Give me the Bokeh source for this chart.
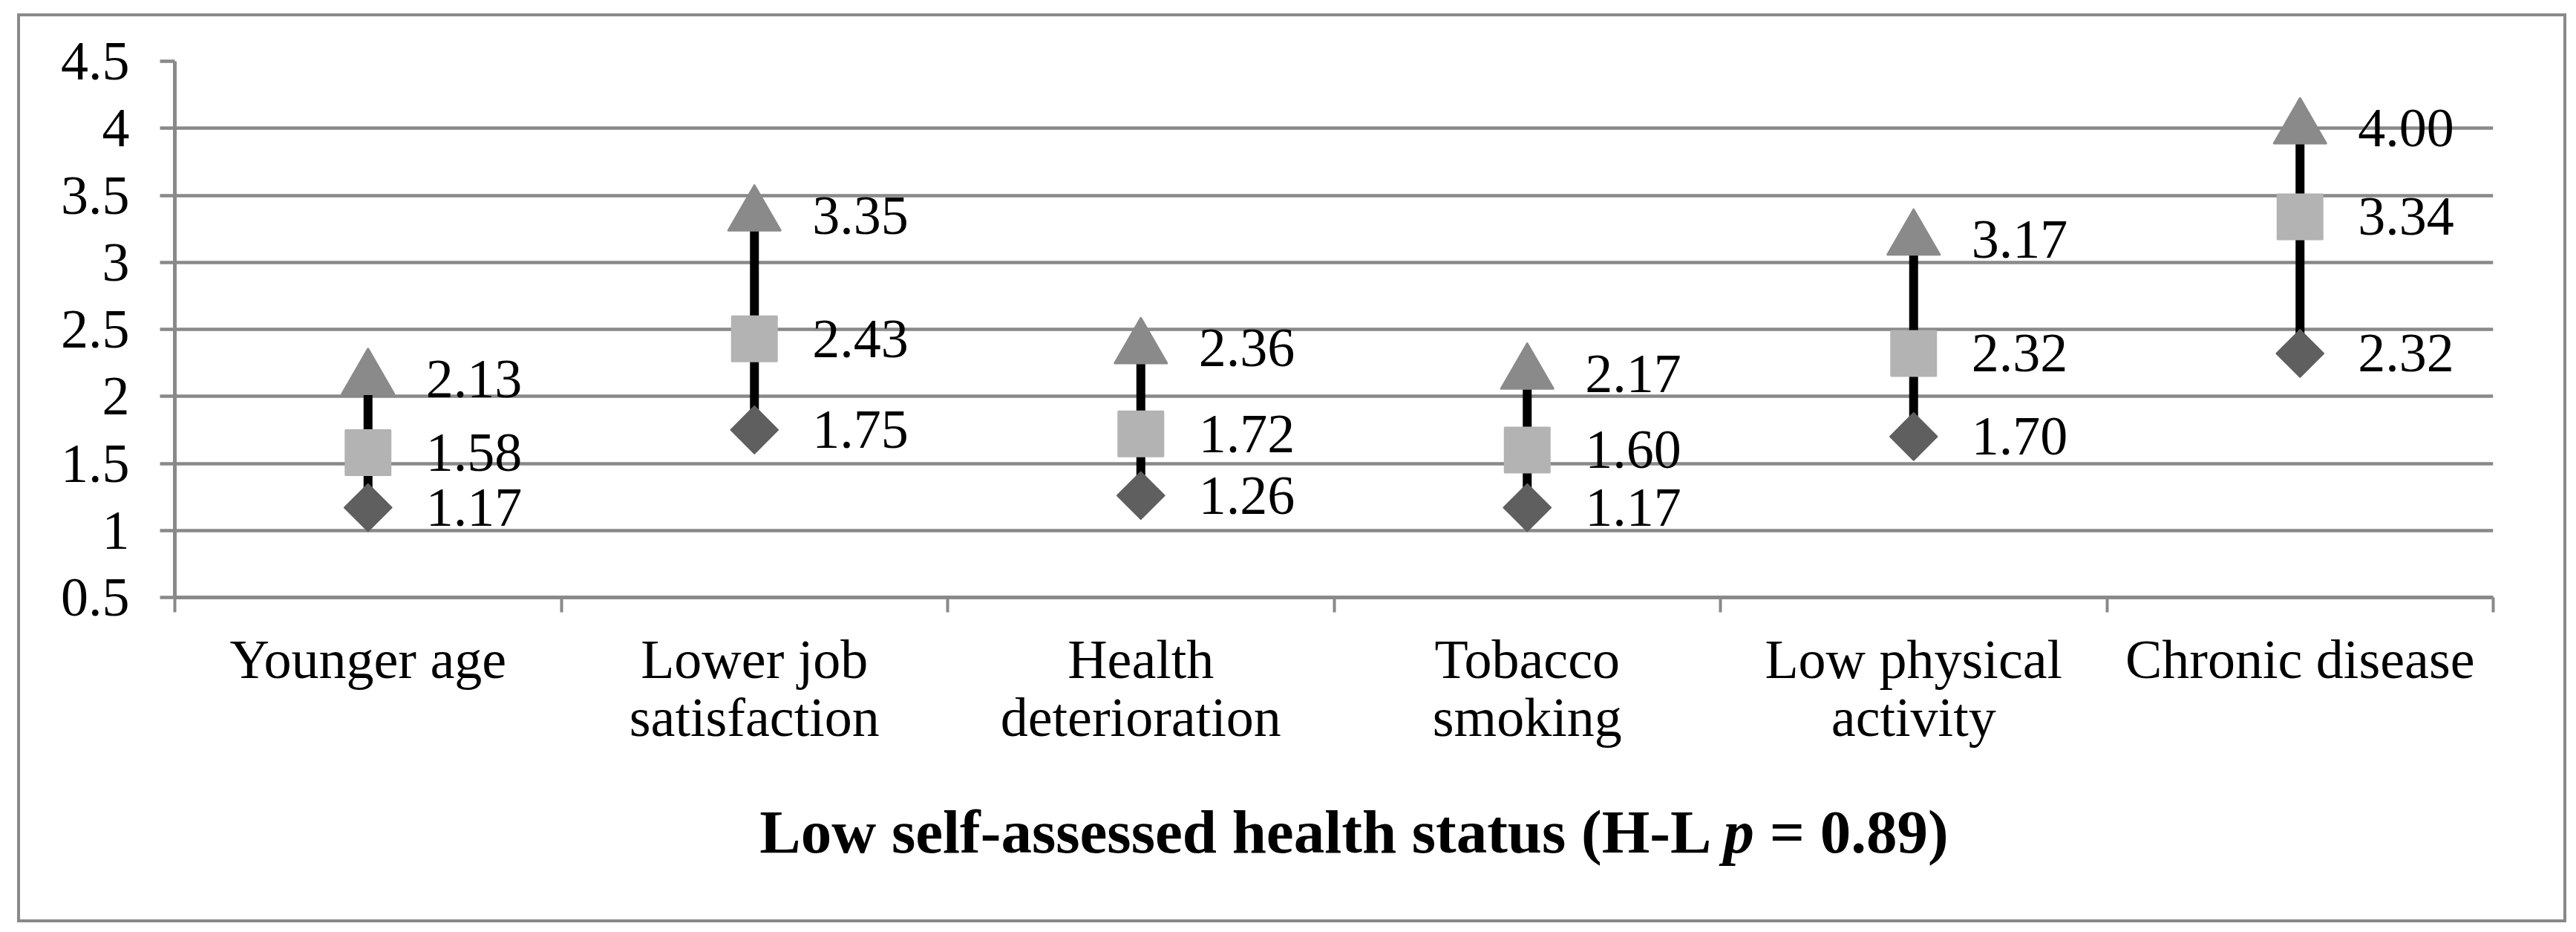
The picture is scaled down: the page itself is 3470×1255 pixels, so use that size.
import numpy as np
from bokeh.plotting import figure
from bokeh.layouts import column
from bokeh.models import ColumnDataSource, Range1d, FixedTicker, Div
from bokeh.embed import file_html
from bokeh.resources import INLINE
from bokeh.core.properties import value

# ---------------- data ----------------
categories = ["Younger age", "Lower job satisfaction", "Health deterioration",
              "Tobacco smoking", "Low physical activity", "Chronic disease"]
category_labels = ["Younger age", "Lower job\nsatisfaction", "Health\ndeterioration",
                   "Tobacco\nsmoking", "Low physical\nactivity", "Chronic disease"]
high_values = [2.13, 3.35, 2.36, 2.17, 3.17, 4.00]
mid_values = [1.58, 2.43, 1.72, 1.60, 2.32, 3.34]
low_values = [1.17, 1.75, 1.26, 1.17, 1.70, 2.32]
y_ticks = [0.5, 1.0, 1.5, 2.0, 2.5, 3.0, 3.5, 4.0, 4.5]
title_before = "Low self-assessed health status (H-L "
title_italic = "p"
title_after = " = 0.89)"

# ---------------- style ----------------
FONT = "Liberation Serif"
GRID = "#898989"
TRI_C = "#8a8a8a"
SQ_C = "#b3b3b3"
DIA_C = "#5f5f5f"

n = len(categories)
xc = [i + 0.5 for i in range(n)]
src = ColumnDataSource(dict(
    x=xc, high=high_values, mid=mid_values, low=low_values,
    high_txt=[f"{v:.2f}" for v in high_values],
    mid_txt=[f"{v:.2f}" for v in mid_values],
    low_txt=[f"{v:.2f}" for v in low_values],
))

W, H = 3416, 1038
p = figure(width=W, height=H, x_range=Range1d(0, n), y_range=Range1d(y_ticks[0], y_ticks[-1]),
           output_backend="svg", toolbar_location=None,
           min_border_left=208, min_border_right=85, min_border_top=60, min_border_bottom=256,
           background_fill_color="white", border_fill_color="white", outline_line_color=None)

# x axis: labels at category centres, tick marks at category boundaries
ax = p.xaxis[0]
ax.ticker = FixedTicker(ticks=xc, minor_ticks=list(range(n + 1)))
ax.major_label_overrides = {x: lab for x, lab in zip(xc, category_labels)}
ax.major_tick_in = 0
ax.major_tick_out = 0
ax.minor_tick_in = 0
ax.minor_tick_out = 20
ax.minor_tick_line_color = GRID
ax.minor_tick_line_width = 4
ax.axis_line_color = GRID
ax.axis_line_width = 5
ax.major_label_text_font = FONT
ax.major_label_text_font_size = "74px"
ax.major_label_text_color = "black"
ax.major_label_text_line_height = 0.96
ax.major_label_standoff = 22

# y axis
ay = p.yaxis[0]
ay.ticker = FixedTicker(ticks=y_ticks)
ay.major_label_overrides = {t: f"{t:g}" for t in y_ticks}
ay.major_tick_in = 0
ay.major_tick_out = 20
ay.minor_tick_in = 0
ay.minor_tick_out = 0
ay.major_tick_line_color = GRID
ay.major_tick_line_width = 4.5
ay.axis_line_color = GRID
ay.axis_line_width = 5
ay.major_label_text_font = FONT
ay.major_label_text_font_size = "74px"
ay.major_label_text_color = "black"
ay.major_label_standoff = 41

p.xgrid.visible = False
p.ygrid[0].ticker = ay.ticker
p.ygrid.grid_line_color = GRID
p.ygrid.grid_line_width = 4.5

# range lines
p.segment(x0="x", y0="low", x1="x", y1="high", source=src, line_color="black", line_width=12)

# markers
p.scatter("x", "high", source=src, marker="triangle", size=70, fill_color=TRI_C,
          line_color=TRI_C, line_width=3, line_join="round")
p.scatter("x", "mid", source=src, marker="square", size=60, fill_color=SQ_C,
          line_color=SQ_C, line_width=3, line_join="round")
p.scatter("x", "low", source=src, marker="square", angle=np.pi / 4, size=45,
          fill_color=DIA_C, line_color=DIA_C, line_width=2, line_join="round")

# value labels
for col in ["high", "mid", "low"]:
    p.text(x="x", y=col, text=col + "_txt", source=src, x_offset=78,
           text_baseline="middle", text_align="left",
           text_font=value(FONT), text_font_size="74px", text_color="black")

# axis title (with italic p) below the plot
title_html = (
    f'<div style="display:block; width:{W}px; box-sizing:border-box; '
    f'font-family:\'{FONT}\'; font-size:83px; font-weight:bold; color:black; '
    f'text-align:center; line-height:83px; padding-top:14px; padding-left:168px; white-space:nowrap;">'
    f'{title_before}<i>{title_italic}</i>{title_after}</div>'
)
title_div = Div(text=title_html, width=W, height=168)

layout = column(p, title_div, spacing=0,
                styles={"border": f"4px solid {GRID}", "margin-left": "23px", "margin-top": "18px",
                        "background-color": "white"})

open("out.html", "w").write(file_html(layout, INLINE))
